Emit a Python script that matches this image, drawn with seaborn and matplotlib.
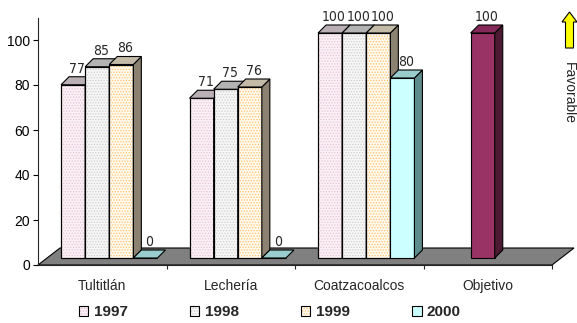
import numpy as np
import pandas as pd
import seaborn as sns
import matplotlib.pyplot as plt
from matplotlib.patches import Polygon, Patch, Rectangle
from matplotlib.transforms import ScaledTranslation, IdentityTransform

# ---- data -------------------------------------------------------------
plants = ["Tultitlán", "Lechería", "Coatzacoalcos"]
years = ["1997", "1998", "1999", "2000"]
v1997 = [77, 71, 100]
v1998 = [85, 75, 100]
v1999 = [86, 76, 100]
v2000 = [0, 0, 80]
goal_label = "Objetivo"
goal_value = [100]          # target bar, shown in the second slot of its group
goal_slot = "1998"
categories = plants + [goal_label]
yticks = [0, 20, 40, 60, 80, 100]

rows = []
for year, vals in zip(years, [v1997, v1998, v1999, v2000]):
    for plant, v in zip(plants, vals):
        rows.append({"site": plant, "year": year, "value": v})
rows.append({"site": goal_label, "year": goal_slot, "value": goal_value[0]})
df = pd.DataFrame(rows)

# ---- styling ----------------------------------------------------------
front_cols = ["#FAF0F5", "#F6F6F6", "#FFF8EC", "#CCFFFF"]
dot_cols = ["#E6C3D4", "#CFCFCF", "#FFC56E", None]      # fine dotted fills
top_cols = ["#B9AFB4", "#B3B3B3", "#C4BAA8", "#99CCCC"]
side_cols = ["#7E7A7C", "#7F7F7F", "#8C8272", "#5E8C8C"]
goal_front, goal_top, goal_side = "#993366", "#84295A", "#4D1A33"

sns.set_style("white")
plt.rcParams["font.family"] = ["Liberation Sans", "DejaVu Sans"]
plt.rcParams["hatch.linewidth"] = 0.6
label_font = {"family": ["DejaVu Sans"], "stretch": "condensed", "size": 10}

W, H, DPI = 577, 323, 100
fig = plt.figure(figsize=(W / DPI, H / DPI), dpi=DPI)
ax = fig.add_axes([38 / W, 58 / H, 514 / W, 247.5 / H])

sns.barplot(data=df, x="site", y="value", hue="year", order=categories,
            hue_order=years, palette=front_cols, saturation=1, width=0.75,
            edgecolor="black", linewidth=0.8, legend=False, errorbar=None, ax=ax)

ax.set_xlim(-0.5, len(categories) - 0.5)
ax.set_ylim(0, 110)
ax.set_xlabel("")
ax.set_ylabel("")

SHIFT = 7    # px: bars sit back from the front edge of the floor
DEPTH = 8    # px: bar depth
FLOOR_DX, FLOOR_DY = 22, 17

def px(x, y):
    return ax.transData.transform((x, y))

# floor
fl, fr = px(-0.5, 0), px(len(categories) - 0.5, 0)
floor = Polygon([fl, fr, fr + (FLOOR_DX, FLOOR_DY), fl + (FLOOR_DX, FLOOR_DY)],
                closed=True, facecolor="#808080", edgecolor="black", lw=0.8,
                transform=IdentityTransform(), zorder=1, clip_on=False)
ax.add_artist(floor)

offset = ax.transData + ScaledTranslation(SHIFT / DPI, SHIFT / DPI, fig.dpi_scale_trans)

bars = []
for hi, cont in enumerate(ax.containers):
    for p in cont.patches:
        bars.append((p.get_x() + p.get_width() / 2, hi, p))
bars.sort(key=lambda t: t[0])

for k, (xc, hi, p) in enumerate(bars):
    is_goal = abs(xc - categories.index(goal_label)) < 0.5
    fc = goal_front if is_goal else front_cols[hi]
    tc = goal_top if is_goal else top_cols[hi]
    sc = goal_side if is_goal else side_cols[hi]
    dc = None if is_goal else dot_cols[hi]
    z = 2 + k * 0.1
    p.set_facecolor(fc)
    p.set_transform(offset)
    p.set_zorder(z)
    p.set_clip_on(False)
    x0, w, h = p.get_x(), p.get_width(), p.get_height()
    if dc is not None and h > 0:
        ax.add_patch(Rectangle((x0, 0), w, h, facecolor="none", edgecolor=dc,
                               lw=0, hatch="......", transform=offset,
                               zorder=z + 0.01, clip_on=False))
        ax.add_patch(Rectangle((x0, 0), w, h, facecolor="none", edgecolor="black",
                               lw=0.8, transform=offset, zorder=z + 0.02,
                               clip_on=False))
    X0, Y0 = px(x0, 0) + SHIFT
    X1, Y1 = px(x0 + w, h) + SHIFT
    d = DEPTH
    if h > 0:
        ax.add_artist(Polygon([(X1, Y0), (X1 + d, Y0 + d), (X1 + d, Y1 + d), (X1, Y1)],
                              closed=True, facecolor=sc, edgecolor="black", lw=0.8,
                              transform=IdentityTransform(), zorder=z + 0.03,
                              clip_on=False))
    ax.add_artist(Polygon([(X0, Y1), (X1, Y1), (X1 + d, Y1 + d), (X0 + d, Y1 + d)],
                          closed=True, facecolor=tc, edgecolor="black", lw=0.8,
                          transform=IdentityTransform(), zorder=z + 0.03,
                          clip_on=False))
    ax.annotate(f"{h:.0f}", xy=(xc, h), xytext=((SHIFT + d / 2) * 72 / DPI,
                                                 (SHIFT + d + 4) * 72 / DPI),
                textcoords="offset points", ha="center", va="baseline",
                zorder=10, annotation_clip=False, **label_font)

# axes
for s in ["top", "right"]:
    ax.spines[s].set_visible(False)
ax.spines["left"].set_linewidth(0.8)
ax.spines["bottom"].set_linewidth(0.8)
ax.spines["bottom"].set_zorder(1.5)
ax.set_yticks(yticks)
ax.tick_params(axis="y", length=3.6, width=0.8, pad=2, labelsize=10, left=True,
               direction="out", colors="black")
ax.set_xticks(range(len(categories)), labels=categories)
ax.set_xticks(np.arange(0.5, len(categories) - 0.4, 1), minor=True)
ax.tick_params(axis="x", which="major", length=0, pad=10, labelsize=10)
ax.tick_params(axis="x", which="minor", length=3, width=0.8, bottom=True,
               direction="out")

# legend: dotted swatches with a black outline on top
handles = []
for fc, dc in zip(front_cols, dot_cols):
    base = Patch(facecolor=fc, edgecolor=dc if dc else fc, lw=0,
                 hatch="......" if dc else None)
    outline = Patch(facecolor="none", edgecolor="black", lw=0.8)
    handles.append((base, outline))
fig.legend(handles, years, loc="center", bbox_to_anchor=(270 / W, 10.5 / H),
           ncol=4, frameon=False, handlelength=0.6, handleheight=0.6,
           handletextpad=0.35, columnspacing=4.1,
           prop={"weight": "bold", "size": 11})

# "Favorable" direction marker
ay = lambda y: H - y
arrow = Polygon([(569.5, ay(12)), (562, ay(22)), (565.5, ay(22)), (565.5, ay(48)),
                 (573.5, ay(48)), (573.5, ay(22)), (577, ay(22))],
                closed=True, facecolor="#FFFF00", edgecolor="black", lw=0.8,
                transform=IdentityTransform())
fig.add_artist(arrow)
fig.text(569 / W, 1 - 62 / H, "Favorable", rotation=-90, ha="center", va="top",
         fontsize=10)

fig.savefig("out.png", dpi=DPI)
